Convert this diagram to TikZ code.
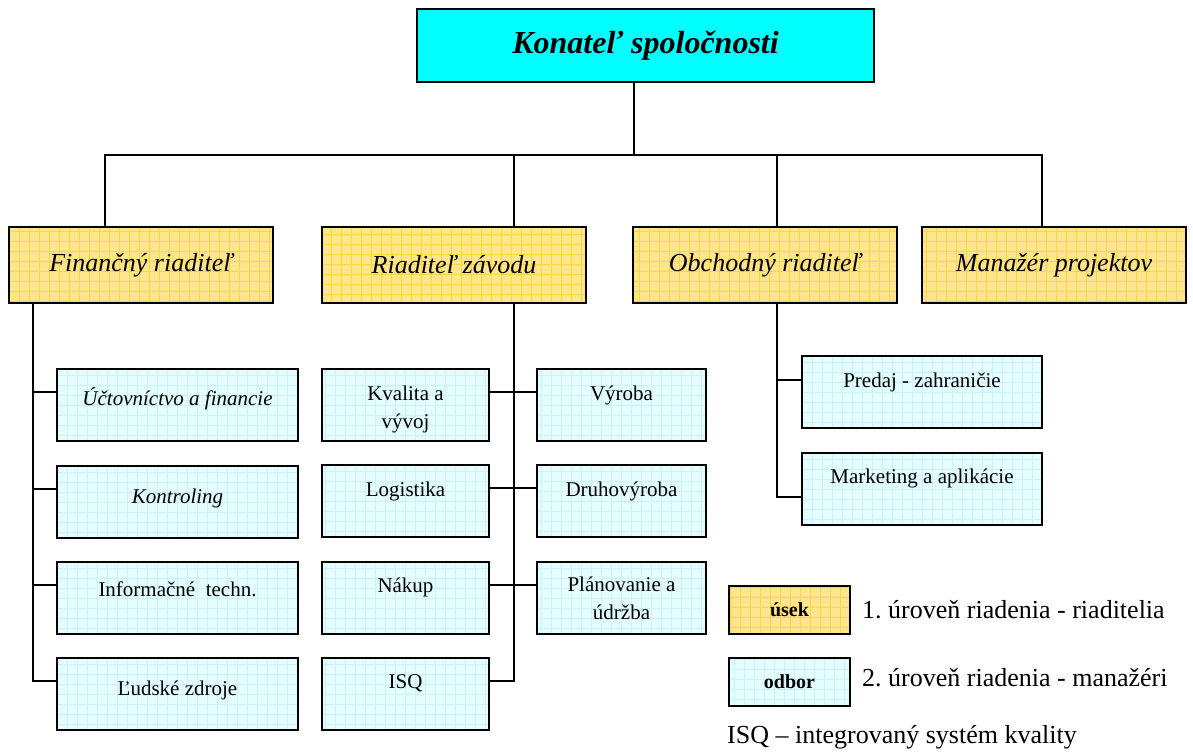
\documentclass[tikz,border=0pt]{standalone}
\usepackage{fontspec}
\setmainfont{Liberation Serif}
\usetikzlibrary{positioning}
\definecolor{usekfill}{RGB}{255,230,140}
\definecolor{usekgrid}{RGB}{255,212,60}
\definecolor{odborfill}{RGB}{228,253,255}
\definecolor{odborgrid}{RGB}{204,242,248}
\definecolor{konfill}{RGB}{0,255,255}
\newcommand{\topstrut}{\rule{0pt}{20pt}}
\frenchspacing
\begin{document}
\begin{tikzpicture}[x=1pt,y=-1pt]
    \tikzset{
      gridfill/.style args={#1,#2}{fill=#1,path picture={
        \draw[#2,line width=0.5pt,step=10pt] (path picture bounding box.south west) grid (path picture bounding box.north east);
      }},
      konatel/.style={draw,line width=2pt,fill=konfill,minimum width=457pt,minimum height=73pt,anchor=north west,
        font=\fontsize{32}{38}\selectfont\bfseries\itshape},
      usek/.style={draw,line width=2pt,gridfill={usekfill,usekgrid},minimum width=264pt,minimum height=76pt,anchor=north west,
        font=\fontsize{26}{31}\selectfont\itshape},
      odbor/.style={draw,line width=2pt,gridfill={odborfill,odborgrid},minimum width=#1,minimum height=72pt,anchor=north west},
      txt/.style={anchor=north,inner sep=0pt,yshift=-#1,align=center,font=\fontsize{21}{28}\selectfont},
      legtxt/.style={font=\fontsize{26}{31}\selectfont,inner sep=2pt},
      conn/.style={line width=2pt}
    }
    \useasboundingbox (0,0) rectangle (1193,754);

        %KONATEL
        \node[konatel] (kon) at (416,8) {Konateľ spoločnosti};

        %USEKY
        \node[usek] (fin) at (8,226) {Finančný riaditeľ};
        \node[usek] (zav) at (321,226) {Riaditeľ závodu};
        \node[usek] (obch) at (632,226) {Obchodný riaditeľ};
        \node[usek] (man) at (921,226) {Manažér projektov};

        %ODBORY - FINANCNY
        \node[odbor=241pt,label={[txt=17pt]north:{\topstrut\itshape Účtovníctvo a financie}}] (uct) at (56,368) {};
        \node[odbor=241pt,label={[txt=18pt]north:{\topstrut\itshape Kontroling}}] (kont) at (56,465) {};
        \node[odbor=241pt,label={[txt=15pt]north:{\topstrut Informačné\ \ techn.}}] (inf) at (56,561) {};
        \node[odbor=241pt,label={[txt=18pt]north:{\topstrut Ľudské zdroje}}] (lud) at (56,657) {};

        %ODBORY - ZAVOD
        \node[odbor=167pt,label={[txt=12pt]north:{\topstrut Kvalita a\\vývoj}}] (kval) at (321,368) {};
        \node[odbor=167pt,label={[txt=12pt]north:{\topstrut Logistika}}] (log) at (321,464) {};
        \node[odbor=167pt,label={[txt=11pt]north:{\topstrut Nákup}}] (nak) at (321,561) {};
        \node[odbor=167pt,label={[txt=11pt]north:{\topstrut ISQ}}] (isq) at (321,657) {};

        \node[odbor=169pt,label={[txt=12pt]north:{\topstrut Výroba}}] (vyr) at (536,368) {};
        \node[odbor=169pt,label={[txt=12pt]north:{\topstrut Druhovýroba}}] (druh) at (536,464) {};
        \node[odbor=169pt,label={[txt=10pt]north:{\topstrut Plánovanie a\\údržba}}] (plan) at (536,561) {};

        %ODBORY - OBCHOD
        \node[odbor=240pt,label={[txt=12pt]north:{\topstrut Predaj - zahraničie}}] (pred) at (801,355) {};
        \node[odbor=240pt,label={[txt=11pt]north:{\topstrut Marketing a aplikácie}}] (mark) at (801,452) {};

        %KONATEL -> USEKY
        \coordinate (stem) at ([xshift=-11.5pt]kon.south);
        \coordinate (bus) at ([yshift=-72pt]stem);
        \coordinate (fin top) at ([xshift=-36pt]fin.north);
        \coordinate (zav top) at ([xshift=60pt]zav.north);
        \coordinate (obch top) at ([xshift=12pt]obch.north);
        \coordinate (man top) at ([xshift=-12pt]man.north);
        \draw[conn] (fin top) |- (man top |- bus) -- (man top);
        \draw[conn] (stem) -- (bus);
        \draw[conn] (zav top) -- (zav top |- bus);
        \draw[conn] (obch top) -- (obch top |- bus);

        %FINANCNY -> ODBORY
        \coordinate (sp1) at ([xshift=25pt]fin.south west);
        \draw[conn] (sp1) |- ([yshift=-24pt]lud.north west);
        \foreach \n in {uct,kont,inf}
          \draw[conn] ([yshift=-24pt]\n.north west) -| (sp1);

        %ZAVOD -> ODBORY
        \coordinate (sp2) at ([xshift=60pt]zav.south);
        \draw[conn] (sp2) |- ([yshift=-24pt]isq.north east);
        \draw[conn] ([yshift=-24pt]kval.north east) -- ([yshift=-24pt]vyr.north west);
        \draw[conn] ([yshift=-24pt]log.north east) -- ([yshift=-24pt]druh.north west);
        \draw[conn] ([yshift=-24pt]nak.north east) -- ([yshift=-24pt]plan.north west);

        %OBCHOD -> ODBORY
        \coordinate (sp3) at ([xshift=12pt]obch.south);
        \draw[conn] (sp3) |- ([yshift=-45pt]mark.north west);
        \draw[conn] ([yshift=-25pt]pred.north west) -| (sp3);

        %LEGENDA
        \node[usek,minimum width=121pt,minimum height=48pt,font=\fontsize{20}{24}\selectfont\bfseries] (lu) at (728,585) {úsek};
        \node[legtxt,right=9pt of lu] (lut) {1. úroveň riadenia - riaditelia};
        \node[odbor=121pt,minimum height=48pt,font=\fontsize{20}{24}\selectfont\bfseries] (lo) at (728,657) {odbor};
        \node[legtxt,right=9pt of lo,yshift=4pt] (lot) {2. úroveň riadenia - manažéri};
        \node[legtxt,anchor=west] (isqt) at (725,737) {ISQ – integrovaný systém kvality};
\end{tikzpicture}
\end{document}
